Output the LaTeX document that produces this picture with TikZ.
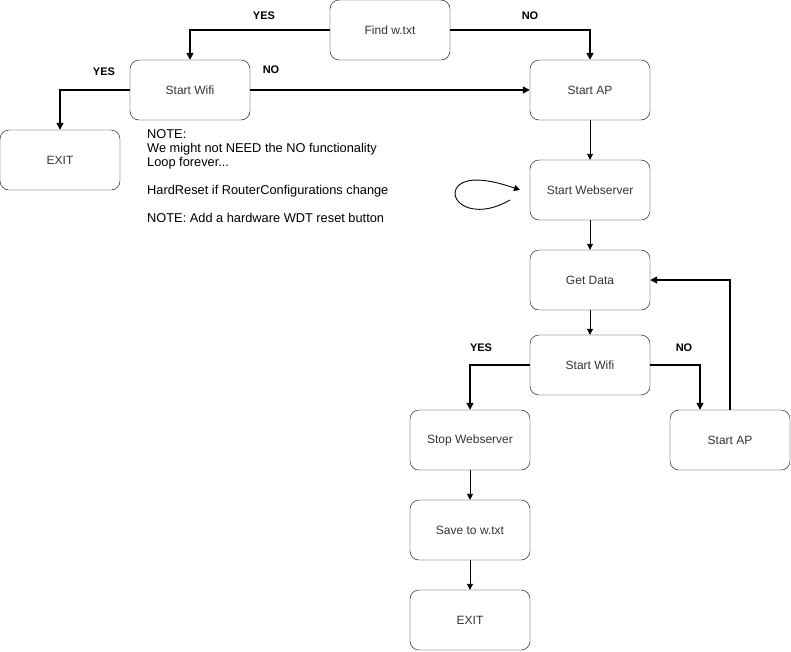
\documentclass[tikz,border=0pt]{standalone}
\usepackage{fontspec}
\setmainfont{Liberation Sans}
\usetikzlibrary{arrows.meta}

\begin{document}
\begin{tikzpicture}[x=1pt, y=-1pt,
    box/.style={draw, rounded corners=9pt, minimum width=120pt, minimum height=60pt,
        font=\fontsize{12}{14}\selectfont, text=black!80},
    flow/.style={line width=1.6pt, -{Triangle[length=7pt,width=7pt]}},
    thin/.style={line width=0.9pt, -{Triangle[length=6pt,width=6pt]}},
    lbl/.style={font=\bfseries\fontsize{11}{13}\selectfont}]
\useasboundingbox (0,0) rectangle (791,651);

\node[box] (find) at (390,30) {Find w.txt};
\node[box] (wifi1) at (190,90) {Start Wifi};
\node[box] (ap1) at (590,90) {Start AP};
\node[box] (exit1) at (60,160) {EXIT};
\node[box] (web) at (590,190) {Start Webserver};
\node[box] (data) at (590,280) {Get Data};
\node[box] (wifi2) at (590,365) {Start Wifi};
\node[box] (stopws) at (470,440) {Stop Webserver};
\node[box] (ap2) at (730,440) {Start AP};
\node[box] (save) at (470,530) {Save to w.txt};
\node[box] (exit2) at (470,620) {EXIT};

% branches
\draw[flow] (find.west) -| (wifi1.north);
\draw[flow] (find.east) -| (ap1.north);
\draw[flow] (wifi1.west) -| (exit1.north);
\draw[flow] (wifi1.east) -- (ap1.west);
\draw[flow] (wifi2.west) -| (stopws.north);
\draw[flow] (wifi2.east) -| ([xshift=-30pt]ap2.north);
\draw[flow] (ap2.north) |- (data.east);

\foreach \a/\b in {ap1/web,web/data,data/wifi2,stopws/save,save/exit2}
    \draw[thin] (\a) -- (\b);

% loop forever
\coordinate (loopstart) at (510,200);
\coordinate (loopend) at (520,190);
\draw[thin] (loopstart) .. controls (472,222) and (446,200) .. (458,186)
    .. controls (470,174) and (500,183) .. (loopend);

\node[lbl] (yes1) at (264,16) {YES};
\node[lbl] (no1) at (530,16) {NO};
\node[lbl] (yes2) at (104,72) {YES};
\node[lbl] (no2) at (271,70) {NO};
\node[lbl] (yes3) at (481,348) {YES};
\node[lbl] (no3) at (684,348) {NO};

\node[anchor=north west, align=left, inner sep=0pt,
    font=\fontsize{12.8}{14}\selectfont] (note) at (147,129.5)
    {NOTE:\\We might not NEED the NO functionality\\Loop forever...\\[14pt]
     HardReset if RouterConfigurations change\\[14pt]
     NOTE: Add a hardware WDT reset button};
\end{tikzpicture}
\end{document}
